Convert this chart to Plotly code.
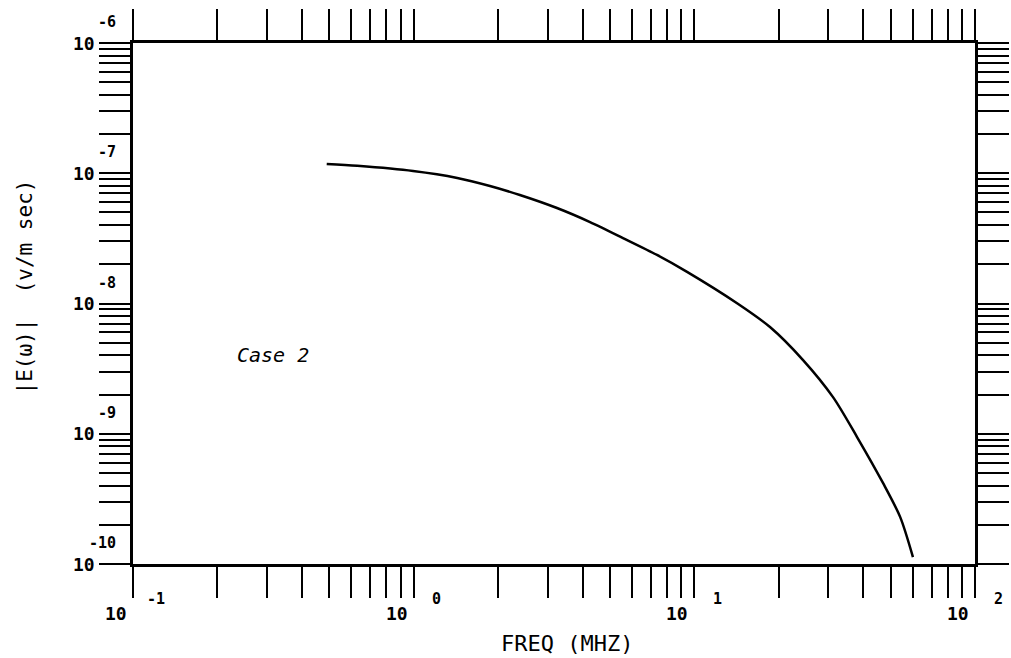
import plotly.graph_objects as go

# Data (frequency in MHz, |E(w)| in V/m sec)
freq_mhz = [0.49, 0.63, 0.995, 1.43, 1.87, 2.39, 3.24, 4.25, 5.57, 7.36, 9.42,
            14.2, 18.6, 24.4, 31.2, 38.0, 47.0, 54.1, 60.1]
e_mag = [1.18e-7, 1.14e-7, 1.04e-7, 9.2e-8, 7.98e-8, 6.81e-8, 5.41e-8, 4.22e-8,
         3.18e-8, 2.36e-8, 1.75e-8, 1.005e-8, 6.6e-9, 3.68e-9, 1.91e-9, 9.44e-10,
         4.19e-10, 2.30e-10, 1.13e-10]

x_decades = [-1, 0, 1, 2]
y_decades = [-10, -9, -8, -7, -6]
x_exp_labels = ["-1", "0", "1", "2"]
y_exp_labels = ["-10", "-9", "-8", "-7", "-6"]

x_title = "FREQ (MHZ)"
y_title = "|E(ω)|  (v/m sec)"
case_label = "Case 2"


def log_ticks(decs):
    vals = []
    for d in decs[:-1]:
        for m in range(1, 10):
            vals.append(m * 10 ** d)
    vals.append(10 ** decs[-1])
    return vals


fig = go.Figure()
fig.add_trace(go.Scatter(x=freq_mhz, y=e_mag, mode="lines",
                         line=dict(color="black", width=2.5, shape="spline", smoothing=0.8),
                         showlegend=False))

axis_common = dict(type="log", showgrid=False, zeroline=False, automargin=False,
                   showline=True, linecolor="black", linewidth=2.5,
                   mirror="ticks", ticks="outside", ticklen=31, tickwidth=2,
                   tickcolor="black", showticklabels=False)

fig.update_xaxes(range=[x_decades[0], x_decades[-1]], tickvals=log_ticks(x_decades),
                 **axis_common)
fig.update_yaxes(range=[y_decades[0], y_decades[-1]], tickvals=log_ticks(y_decades),
                 **axis_common)

ann = []
num_font = dict(family="DejaVu Sans Mono", size=18, color="black")
exp_font = dict(family="DejaVu Sans Mono", size=15, color="black")
for d, e in zip(x_decades, x_exp_labels):
    ann.append(dict(x=d, y=0, xref="x", yref="paper", text="<b>10</b>",
                    showarrow=False, xanchor="center", yanchor="middle",
                    xshift=-17, yshift=-49, font=num_font))
    ann.append(dict(x=d, y=0, xref="x", yref="paper", text="<b>%s</b>" % e,
                    showarrow=False, xanchor="center", yanchor="middle",
                    xshift=23, yshift=-35, font=exp_font))
for d, e in zip(y_decades, y_exp_labels):
    ann.append(dict(x=0, y=d, xref="paper", yref="y", text="<b>10</b>",
                    showarrow=False, xanchor="center", yanchor="middle",
                    xshift=-49, yshift=0, font=num_font))
    ann.append(dict(x=0, y=d, xref="paper", yref="y", text="<b>%s</b>" % e,
                    showarrow=False, xanchor="right", yanchor="middle",
                    xshift=-15, yshift=21, font=exp_font))

ann.append(dict(x=0.5, y=0, xref="paper", yref="paper", text=x_title,
                showarrow=False, xanchor="center", yanchor="middle",
                xshift=13, yshift=-79,
                font=dict(family="DejaVu Sans Mono", size=22, color="black")))
ann.append(dict(x=0, y=0.5, xref="paper", yref="paper", text=y_title,
                showarrow=False, xanchor="center", yanchor="middle", textangle=-90,
                xshift=-108, yshift=16,
                font=dict(family="DejaVu Sans Mono", size=21, color="black")))
ann.append(dict(x=0, y=0, xref="paper", yref="paper", text="<i>%s</i>" % case_label,
                showarrow=False, xanchor="left", yanchor="middle",
                xshift=102, yshift=209,
                font=dict(family="DejaVu Sans Mono", size=20, color="black")))

fig.update_layout(width=1011, height=658, margin=dict(l=133, r=36, t=43, b=94),
                  paper_bgcolor="white", plot_bgcolor="white", annotations=ann)

fig.write_html("out.html", config={"displayModeBar": False},
               post_script="document.body.style.margin='0';document.body.style.overflow='hidden';")
